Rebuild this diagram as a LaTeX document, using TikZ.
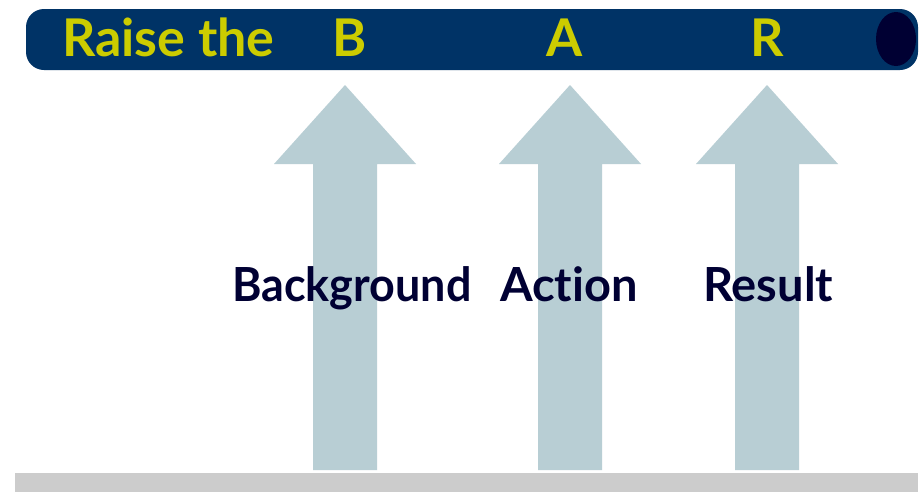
\documentclass[tikz,border=0pt]{standalone}
\usepackage{fontspec}
\setmainfont{Lato}[Ligatures=NoCommon]
\definecolor{barblue}{RGB}{0,51,102}
\definecolor{darknavy}{RGB}{0,0,51}
\definecolor{titleyellow}{RGB}{204,204,0}
\definecolor{arrowfill}{RGB}{184,206,212}
\definecolor{floorgray}{RGB}{204,204,204}
\tikzset{
  titletext/.style={text=titleyellow, font=\fontsize{52}{52}\selectfont\bfseries, inner sep=0pt, anchor=base west},
  labeltext/.style={text=darknavy, font=\fontsize{47}{47}\selectfont\bfseries, inner sep=0pt, anchor=base west},
  bigarrow/.style={fill=arrowfill, draw=none},
}
\newcommand{\uparrowshape}[3]{% centre x, shaft half width, head half width
  \fill[bigarrow] (#1-#2,470) -- (#1-#2,164) -- (#1-#3,164) -- (#1,85) -- (#1+#3,164) -- (#1+#2,164) -- (#1+#2,470) -- cycle;
}
\begin{document}
\begin{tikzpicture}[x=1pt,y=-1pt]
\useasboundingbox[fill=white] (0,0) rectangle (923,493);
% top bar
\fill[barblue, rounded corners=18pt] (26,9) rectangle (918,70);
\fill[darknavy] (896,39) ellipse [x radius=20, y radius=27];
% arrows
\uparrowshape{345}{32}{71}
\uparrowshape{570}{32}{71}
\uparrowshape{767}{32}{71}
% floor
\fill[floorgray] (15,473) rectangle (918,492);
% title texts
\node[titletext] (raise) at (62,56) {Raise the};
\node[titletext] (b) at (332,56) {B};
\node[titletext] (a) at (546,56) {A};
\node[titletext] (r) at (750,56) {R};
% labels
\node[labeltext] (bg) at (232,301) {\scalebox{0.955}[1]{Background}};
\node[labeltext] (ac) at (500,301) {Action};
\node[labeltext] (re) at (703,301) {Result};
\end{tikzpicture}
\end{document}
